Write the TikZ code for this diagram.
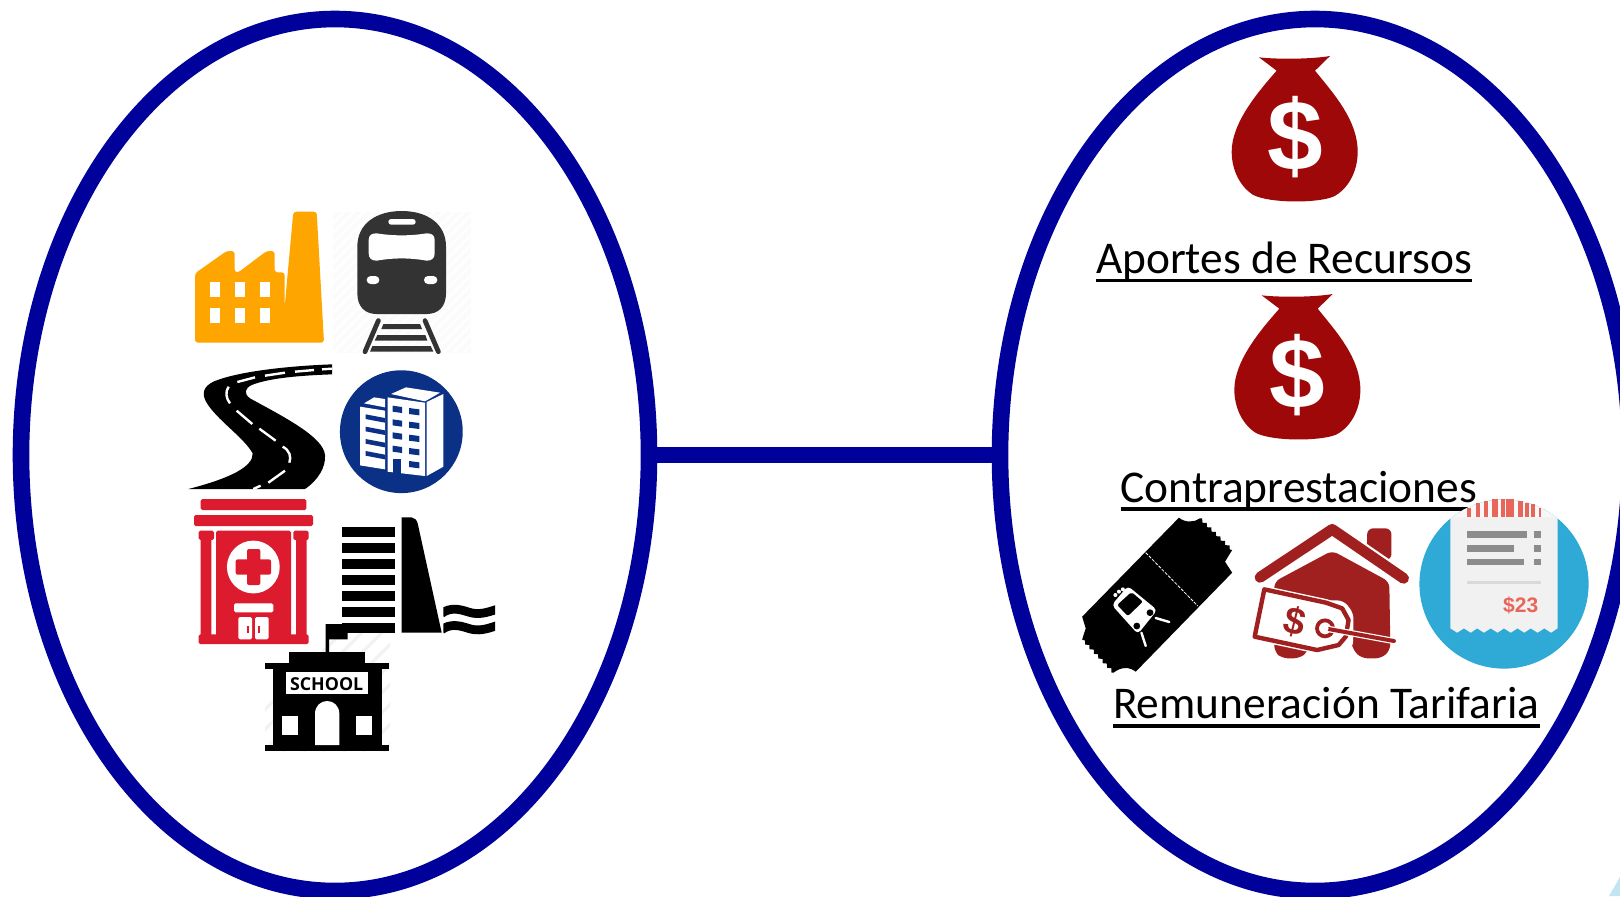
\documentclass[tikz,border=0pt]{standalone}
\usepackage{fontspec}
\setmainfont{Carlito}
\newfontfamily\iconfont{Liberation Sans}
\newfontfamily\signfont{Open Sans}
\usetikzlibrary{calc,decorations.pathmorphing,shapes.geometric}
\definecolor{ringblue}{HTML}{00009B}
\definecolor{factoryc}{HTML}{FFA500}
\definecolor{trainc}{HTML}{333333}
\definecolor{towerc}{HTML}{0B3187}
\definecolor{hospc}{HTML}{DC1C2E}
\definecolor{bagc}{HTML}{9E0808}
\definecolor{housec}{HTML}{A02020}
\definecolor{skyc}{HTML}{2FA9D6}
\definecolor{paperc}{HTML}{F1F1F1}
\definecolor{salmonc}{HTML}{E8655A}
\definecolor{barc}{HTML}{8C8C8C}
\tikzset{
  ring/.style={ellipse,draw=ringblue,line width=8.3pt,inner sep=0pt,outer sep=0pt},
  link/.style={draw=ringblue,line width=8pt},
  caption/.style={anchor=base west,inner sep=0pt,outer sep=0pt,font=\fontsize{22.7pt}{27pt}\selectfont},
  ulinestyle/.style={line width=1.6pt,black},
  zoomA/.style={x=0.16667pt,y=-0.16667pt},
  zoomB/.style={x=0.17857pt,y=-0.16667pt},
}
\newcommand{\moneybag}[3]{%
  \begin{scope}[shift={(#1,#2)}]
    \fill[bagc] (597,52) .. controls (650,58) and (750,58) .. (810,48) -- (765,92)
      .. controls (820,160) and (893,240) .. (893,335)
      .. controls (893,400) and (860,450) .. (820,470)
      .. controls (770,490) and (630,490) .. (580,465)
      .. controls (540,440) and (515,390) .. (515,335)
      .. controls (515,250) and (590,160) .. (650,92) -- cycle;
    \node[white,inner sep=0pt,font=\iconfont\bfseries\fontsize{50pt}{50pt}\selectfont] (#3) at (705,290) {\$};
  \end{scope}}
\begin{document}
\begin{tikzpicture}[x=0.5pt,y=-0.5pt]
\useasboundingbox (0,0) rectangle (1620,896);
\clip (0,0) rectangle (1620,896);
\fill[white] (0,0) rectangle (1620,896);

% ---- rings and link
\node[ring,minimum width=314pt,minimum height=436pt] (leftring) at (335,455) {};
\node[ring,minimum width=315pt,minimum height=436pt] (rightring) at (1315,455) {};
\draw[link] (leftring.east) -- (rightring.west);

% ---- upper left icons
\begin{scope}[shift={(170,190)},zoomA]
  % factory
  \fill[factoryc,rounded corners=1.5pt] (75,458) -- (462,458) -- (440,65) -- (370,65) -- (344,350) -- (344,247) -- (314,247) -- (314,183) -- (290,183) -- (205,247) -- (194,247) -- (194,183) -- (170,183) -- (75,250) -- cycle;
  \foreach \wx in {120,195,269}{
    \fill[white] (\wx,277) rectangle ++(30,45);
    \fill[white] (\wx,354) rectangle ++(30,44);
  }
  % train
  \fill[black!1.5] (488,65) rectangle (903,490);
  \begin{scope}
    \clip (488,65) rectangle (903,490);
    \foreach \k in {0,30,...,840}{
      \draw[white,line width=1.2pt] (488+\k,490) -- (488+\k+425,65);
      \draw[white,line width=1.2pt] (488-\k,490) -- (488-\k+425,65);
    }
  \end{scope}
  \fill[trainc] (562,170) .. controls (562,100) and (620,63) .. (695,63) .. controls (770,63) and (828,100) .. (828,170) -- (828,310) .. controls (828,350) and (805,372) .. (770,372) -- (620,372) .. controls (585,372) and (562,350) .. (562,310) -- cycle;
  \fill[white] (596,150) .. controls (596,135) and (605,130) .. (620,130) .. controls (670,138) and (720,138) .. (770,130) .. controls (785,130) and (794,135) .. (794,150) -- (794,190) .. controls (794,205) and (785,212) .. (770,212) .. controls (720,203) and (670,203) .. (620,212) .. controls (605,212) and (596,205) .. (596,190) -- cycle;
  \fill[white,rounded corners=1.4pt] (655,87) rectangle (737,104);
  \fill[white,rounded corners=2pt] (590,258) rectangle (628,282);
  \fill[white,rounded corners=2pt] (762,258) rectangle (802,282);
  \draw[trainc,line width=2.4pt,line cap=round] (625,392) -- (585,485);
  \draw[trainc,line width=2.4pt,line cap=round] (765,392) -- (805,485);
  \fill[trainc] (640,402) -- (750,402) -- (756,417) -- (634,417) -- cycle;
  \fill[trainc] (622,435) -- (766,435) -- (772,452) -- (614,452) -- cycle;
  \fill[trainc] (607,468) -- (782,468) -- (790,485) -- (600,485) -- cycle;
  % road
  \fill[black] (486,523) .. controls (350,528) and (200,545) .. (130,575) .. controls (100,590) and (95,610) .. (108,635) .. controls (140,690) and (220,740) .. (248,790) .. controls (250,830) and (180,865) .. (55,897) -- (405,897) .. controls (445,870) and (468,830) .. (465,795) .. controls (460,740) and (340,680) .. (240,625) .. controls (220,610) and (225,595) .. (245,585) .. controls (300,563) and (400,556) .. (486,553) -- cycle;
  \begin{scope}[white,line width=1.2pt]
    \draw (456,538) -- (486,536);
    \draw (375,545) -- (432,540);
    \draw (285,557) -- (345,548);
    \draw (202,576) -- (255,562);
    \draw (176,590) .. controls (165,605) and (168,625) .. (180,640);
    \draw (200,662) -- (247,702);
    \draw (268,716) -- (317,752);
    \draw (338,770) .. controls (358,780) and (365,800) .. (358,818);
    \draw (345,842) -- (295,878);
    \draw (272,887) -- (250,897);
  \end{scope}
  % tower in a disc
  \fill[towerc] (694,725) circle[radius=30.7pt];
  \fill[white] (582,640) -- (612,622) -- (645,627) -- (645,652) -- cycle;
  \fill[white] (570,650) -- (645,662) -- (645,838) -- (570,826) -- cycle;
  \foreach \sy in {673,710,747,783}{
    \fill[towerc] (587,\sy) -- (645,\sy+11) -- (645,\sy+25) -- (587,\sy+14) -- cycle;
  }
  \fill[white] (663,612) -- (708,592) -- (810,608) -- (765,634) -- cycle;
  \fill[white] (653,622) -- (765,638) -- (765,858) -- (653,845) -- cycle;
  \fill[white] (770,636) -- (820,612) -- (820,830) -- (770,858) -- cycle;
  \fill[towerc] (668,808) -- (693,808) -- (693,852) -- (668,852) -- cycle;
  \foreach \sy in {647,688,727,767}{
    \fill[towerc] (668,\sy) -- (696,\sy+4) -- (696,\sy+22) -- (668,\sy+18) -- cycle;
    \fill[towerc] (717,\sy+7) -- (748,\sy+11) -- (748,\sy+29) -- (717,\sy+25) -- cycle;
  }
  \fill[towerc] (717,813) -- (748,817) -- (748,835) -- (717,831) -- cycle;
\end{scope}

% ---- lower left icons
\begin{scope}[shift={(170,490)},zoomA]
  % school hatch
  \begin{scope}
    \clip (285,400) rectangle (660,784);
    \foreach \k in {0,60,...,660}{
      \draw[black!5,line width=1.6pt] (160+\k,784) -- (160+\k+384,400);
    }
  \end{scope}
  % hospital
  \begin{scope}[hospc,rounded corners=0.8pt]
    \fill (92,27) rectangle (409,60);
    \fill (72,75) rectangle (429,108);
    \fill (86,122) rectangle (132,150);
    \fill (370,122) rectangle (416,150);
    \fill (92,145) rectangle (124,440);
    \fill (378,145) rectangle (410,440);
    \fill (138,122) rectangle (363,440);
    \fill (86,433) rectangle (416,462);
  \end{scope}
  \fill[white] (250,231) circle[radius=13.2pt];
  \fill[hospc,rounded corners=1pt] (197,208) rectangle (303,254);
  \fill[hospc,rounded corners=1pt] (231,177) rectangle (271,285);
  \fill[white,rounded corners=0.8pt] (192,340) rectangle (310,367);
  \fill[white,rounded corners=0.8pt] (205,381) rectangle (246,448);
  \fill[white,rounded corners=0.8pt] (255,381) rectangle (296,448);
  \fill[hospc] (231,408) rectangle (238,428);
  \fill[hospc] (263,408) rectangle (270,428);
  % dam
  \foreach \sy/\sb in {111/142,158/190,207/238,255/286,303/333,350/381,398/428}{
    \fill[black] (517,\sy) rectangle (675,\sb);
  }
  \fill[black] (695,82) -- (725,82) .. controls (735,84) and (740,90) .. (743,100) -- (815,428) -- (695,428) -- cycle;
  \begin{scope}
    \clip (820,330) rectangle (975,440);
    \foreach \wy in {364,413}{
      \draw[black,line width=4.4pt] (815,\wy+6) .. controls (840,\wy-12) and (865,\wy-8) .. (895,\wy+2) .. controls (925,\wy+12) and (950,\wy+4) .. (980,\wy-6);
    }
  \end{scope}
  % school
  \fill[black] (467,402) -- (517,402) -- (517,425) -- (533,425) -- (533,448) -- (477,448) -- (477,490) -- (467,490) -- cycle;
  \fill[black] (356,485) rectangle (586,518);
  \fill[black] (284,518) rectangle (658,538);
  \fill[black] (308,538) rectangle (635,765);
  \fill[black] (284,765) rectangle (658,784);
  \fill[white] (348,545) rectangle (594,613);
  \node[inner sep=0pt,font=\signfont\bfseries\fontsize{8.9pt}{9pt}\selectfont] (schoolsign) at (470,581) {SCHOOL};
  \fill[white] (337,677) rectangle (383,735);
  \fill[white] (559,677) rectangle (605,735);
  \fill[white] (435,765) -- (435,672) .. controls (435,620) and (508,620) .. (508,672) -- (508,765) -- cycle;
\end{scope}

% ---- money bags
\begin{scope}[shift={(1060,40)},zoomA]
  \moneybag{0}{0}{dollarone}
  \moneybag{8}{714}{dollartwo}
\end{scope}

% ---- captions
\node[caption] (aportes) at (1096,273) {Aportes de Recursos};
\draw[ulinestyle] ($(aportes.base west)+(0,7.5)$) -- ($(aportes.base east)+(0,7.5)$);
\node[caption] (contra) at (1120.5,502) {Contraprestaciones};
\draw[ulinestyle] ($(contra.base west)+(0,7)$) -- ($(contra.base east)+(0,7)$);
\node[caption] (remun) at (1113,718) {Remuneración Tarifaria};
\draw[ulinestyle] ($(remun.base west)+(0,8)$) -- ($(remun.base east)+(0,8)$);

% ---- receipt disc
\fill[skyc] (1504,584) circle[radius=42.3pt];
\begin{scope}[shift={(1060,480)},zoomB]
  \begin{scope}
    \path[clip] ({(1504-1060)*2.8},{(584-480)*3}) circle[radius=42.3pt];
    \fill[paperc!60!white] (1008,57) rectangle (1478,114);
  \end{scope}
  \fill[paperc] (1093,112) -- (1393,112) -- (1393,445)
    -- (1375,458) -- (1356,445) -- (1337,458) -- (1318,445) -- (1300,458) -- (1281,445) -- (1262,458) -- (1243,445) -- (1225,458) -- (1206,445) -- (1187,458) -- (1168,445) -- (1150,458) -- (1131,445) -- (1112,458) -- (1093,445) -- cycle;
  \foreach \ba/\bb/\bt in {1140/1152/84,1165/1175/70,1187/1197/62,1210/1225/58,1236/1245/57,1250/1272/58,1283/1297/63,1303/1312/70,1318/1330/72,1340/1348/84}{
    \fill[salmonc] (\ba,\bt) rectangle (\bb,112);
  }
  \foreach \gy/\gr in {154/1308,195/1270,236/1298}{
    \fill[barc] (1140,\gy) rectangle (\gr,\gy+20);
    \fill[barc] (1328,\gy) rectangle (1347,\gy+20);
  }
  \fill[black!15] (1140,302) rectangle (1347,312);
  \node[salmonc,inner sep=0pt,font=\iconfont\bfseries\fontsize{10.5pt}{11pt}\selectfont] (price) at (1290,377) {\$23};

  % ticket
  \fill[black] decorate[decoration={zigzag,segment length=3.2pt,amplitude=0.7pt}]{(392,115) -- (482,210)} -- (462,245) -- (482,278) -- (212,575) .. controls (195,560) and (170,560) .. (150,578)
    decorate[decoration={zigzag,segment length=3.2pt,amplitude=0.7pt}]{ -- (62,478)} -- (72,445) -- (62,410) -- (333,113) .. controls (350,128) and (375,128) .. (392,115) -- cycle;
  \draw[white,line width=0.4pt,dash pattern=on 1.6pt off 0.7pt] (240,218) -- (386,378);
  \fill[white,rounded corners=2pt] (145,375) -- (190,318) -- (272,390) -- (218,462) -- cycle;
  \fill[black,rounded corners=1pt] (160,375) -- (200,336) -- (232,365) -- (190,408) -- cycle;
  \fill[black] (252,398) circle[radius=1.7pt];
  \fill[black] (215,438) circle[radius=1.7pt];
  \draw[white,line width=1.2pt,line cap=round] (268,414) -- (306,426);
  \draw[white,line width=1.2pt,line cap=round] (228,458) -- (240,498);
  \fill[white] (155,345) circle[radius=1pt];
  \fill[white] (165,335) circle[radius=1pt];
  \fill[white] (176,328) circle[radius=1pt];

  % house with tag
  \fill[housec,rounded corners=3pt] (860,240) -- (860,145) -- (928,145) -- (928,240) -- cycle;
  \draw[white,line width=7.6pt,line cap=round,line join=round] (560,292) -- (762,148) -- (962,295);
  \draw[housec,line width=5.4pt,line cap=round,line join=round] (560,292) -- (762,148) -- (962,295);
  \fill[housec,rounded corners=3pt] (600,305) -- (762,212) -- (922,305) -- (925,510) -- (900,535) -- (845,535) -- (820,510) -- (815,480) -- (695,480) -- (695,515) -- (670,535) -- (622,535) -- (600,515) -- cycle;
  \fill[white,rounded corners=3pt] (745,360) -- (795,362) -- (822,400) -- (820,505) -- (720,525) -- (640,490) -- cycle;
  \draw[white,line width=3.6pt,line join=round] (572,328) -- (745,368) -- (790,385) -- (808,420) -- (800,470) -- (780,495) -- (720,510) -- (545,470) -- cycle;
  \draw[housec,fill=white,line width=2.2pt,line join=round] (572,328) -- (745,368) -- (790,385) -- (808,420) -- (800,470) -- (780,495) -- (720,510) -- (545,470) -- cycle;
  \node[housec,inner sep=0pt,rotate=-14,font=\iconfont\bfseries\fontsize{19pt}{19pt}\selectfont] (tagprice) at (658,424) {\$};
  \draw[housec,fill=white,line width=1.9pt] (742,445) circle[radius=4pt];
  \draw[white,line width=3.2pt,line cap=round] (752,447) -- (935,483);
  \draw[housec,line width=2pt,line cap=round] (752,447) -- (935,483);
  \fill[white] (742,445) circle[radius=1.8pt];
\end{scope}

\fill[skyc!30!white] (1609,896) -- (1620,877) -- (1620,896) -- cycle;
\end{tikzpicture}
\end{document}
